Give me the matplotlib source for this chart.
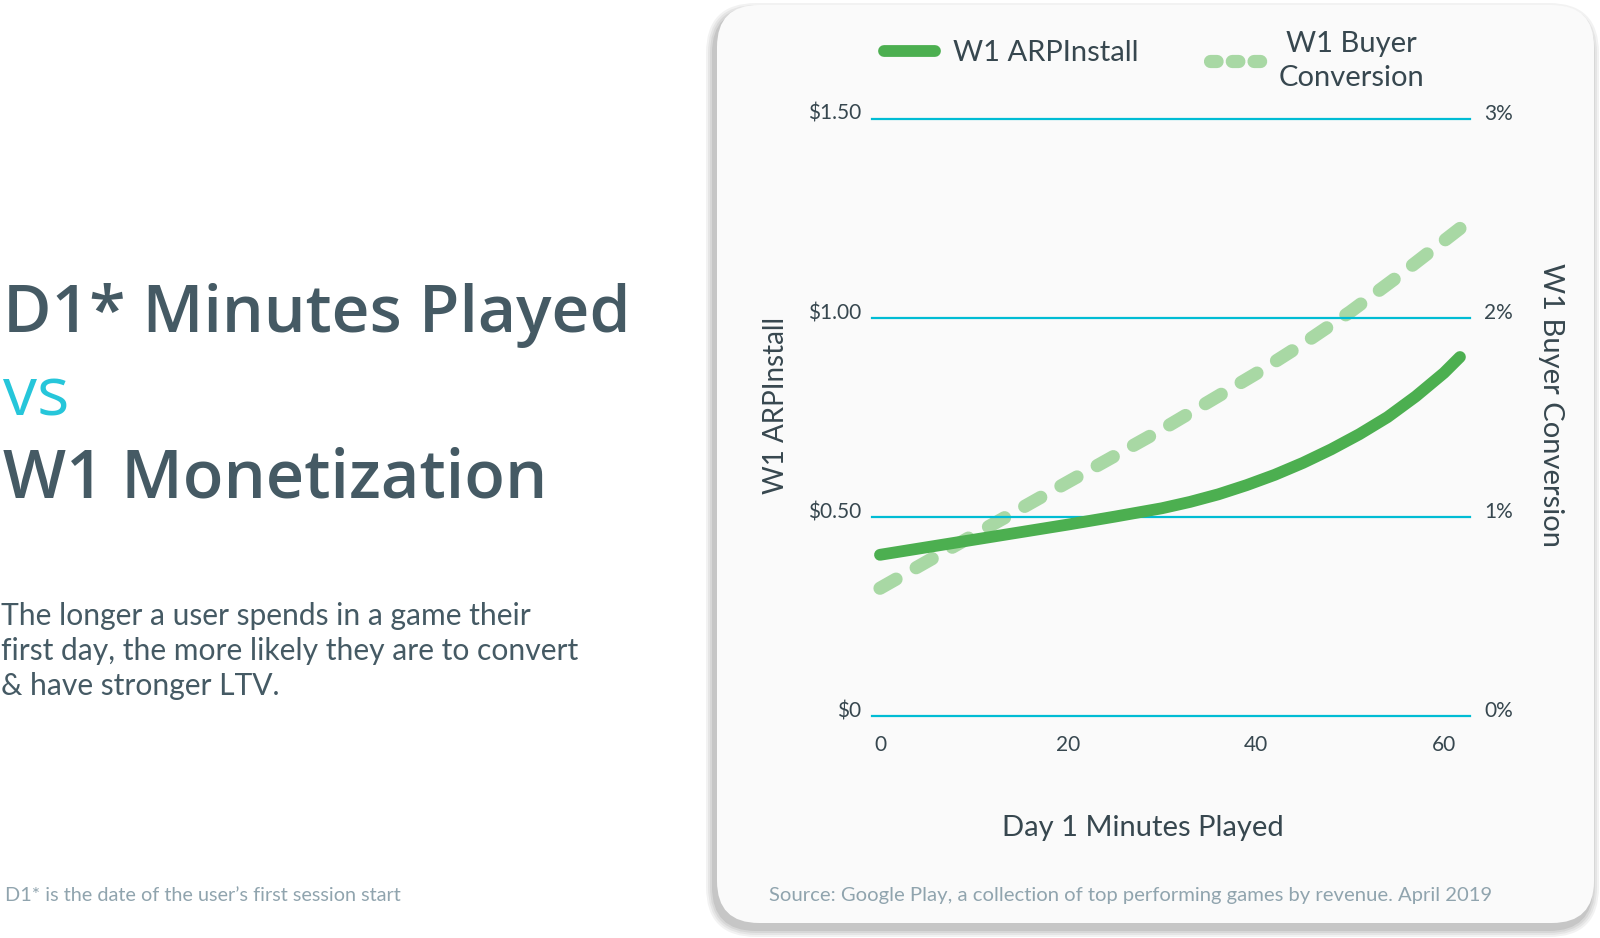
import numpy as np
import matplotlib.pyplot as plt
from matplotlib.lines import Line2D
from matplotlib.patches import FancyBboxPatch
from matplotlib.transforms import ScaledTranslation, IdentityTransform

# data
minutes_arp = [0, 5, 10, 15, 20, 25, 30, 33, 36, 39, 42, 45, 48, 51, 54, 57, 60, 61.7]
arp_install = [0.405, 0.424, 0.443, 0.462, 0.481, 0.501, 0.522, 0.538, 0.557, 0.580, 0.606,
               0.636, 0.670, 0.708, 0.751, 0.803, 0.862, 0.902]
minutes_conv = [0, 10, 20, 30, 40, 45, 50, 55, 61.7]
buyer_conv = [0.642, 0.91, 1.176, 1.44, 1.72, 1.87, 2.03, 2.205, 2.45]

left_ticks = [0, 0.5, 1.0, 1.5]
left_labels = ['\\$0', '\\$0.50', '\\$1.00', '\\$1.50']
right_ticks = [0, 1, 2, 3]
right_labels = ['0%', '1%', '2%', '3%']
x_ticks = [0, 20, 40, 60]

GREEN = '#4caf50'
LIGHT_GREEN = '#a8d8a4'
CYAN = '#00bcd4'
DARK = '#455a64'
TEXT = '#37474f'
GREY = '#90a4ae'

plt.rcParams['font.family'] = ['Lato', 'DejaVu Sans']

W, H = 1600, 938
fig = plt.figure(figsize=(W / 100, H / 100), dpi=100, facecolor='white')

def fy(y):
    return 1 - y / H

# card with soft shadow
for i, a in enumerate([0.05, 0.05, 0.06, 0.08]):
    grow = 8 - 2 * i
    sh = FancyBboxPatch((717 - 3 - grow, 938 - 923 - 6 - grow), 877 + 2 * grow, 918 + 2 * grow,
                        boxstyle='round,pad=0,rounding_size=%d' % (42 + grow),
                        transform=IdentityTransform(), facecolor='black', alpha=a,
                        edgecolor='none', zorder=-3)
    fig.patches.append(sh)
card = FancyBboxPatch((717, 938 - 923), 877, 918, boxstyle='round,pad=0,rounding_size=42',
                      transform=IdentityTransform(), facecolor='#fafafa', edgecolor='none',
                      zorder=-2)
fig.patches.append(card)

# left hand text
fig.text(3 / W, fy(332), 'D1* Minutes Played', fontsize=47.5, color=DARK,
         family=['Open Sans', 'DejaVu Sans'], weight='semibold', va='baseline')
fig.text(3 / W, fy(415), 'vs', fontsize=49, color='#26c6da',
         family=['Open Sans', 'DejaVu Sans'], va='baseline')
fig.text(3 / W, fy(498), 'W1 Monetization', fontsize=48, color=DARK,
         family=['Open Sans', 'DejaVu Sans'], weight='semibold', va='baseline')
body = ['The longer a user spends in a game their',
        'first day, the more likely they are to convert',
        '& have stronger LTV.']
for i, line in enumerate(body):
    fig.text(1 / W, fy(625 + 35 * i), line, fontsize=21.6, color=DARK, va='baseline')
fig.text(5 / W, fy(895), 'D1* is the date of the user\u2019s first session start',
         fontsize=14.3, color=GREY, va='center')

# chart
ax = fig.add_axes([872 / W, fy(716), (1470 - 872) / W, (716 - 119) / H])
ax2 = ax.twinx()
ax.set_zorder(ax2.get_zorder() + 1)
ax.patch.set_visible(False)
ax2.patch.set_visible(False)

ax.set_xlim(-0.85, 62.77)
ax.set_ylim(0, 1.5)
ax2.set_ylim(0, 3)

# fit the dash period so the dashed line starts and ends on a dash
dash_lw = 9.5
lw_px = dash_lw * fig.dpi / 72
pts = ax2.transData.transform(np.column_stack([minutes_conv, buyer_conv]))
length = np.hypot(*np.diff(pts, axis=0).T).sum()
on_px = 1.4 * lw_px
n = round((length - on_px) / 42.5)
off_px = (length - on_px) / n - on_px

ax2.plot(minutes_conv, buyer_conv, color=LIGHT_GREEN, lw=dash_lw, dash_capstyle='round',
         dashes=(on_px / lw_px, off_px / lw_px))
ax.plot(minutes_arp, arp_install, color=GREEN, lw=8.5, solid_capstyle='round',
        solid_joinstyle='round')

ax.set_xticks(x_ticks)
ax.set_yticks(left_ticks, left_labels)
ax2.set_yticks(right_ticks, right_labels)
ax.yaxis.grid(True, color=CYAN, lw=1.6)
for gl in ax.get_ygridlines():
    gl.set_clip_on(False)
for a in (ax, ax2):
    for s in a.spines.values():
        s.set_visible(False)
    a.tick_params(length=0, labelsize=15, labelcolor=TEXT)
ax.tick_params(axis='y', pad=8)
ax2.tick_params(axis='y', pad=10)
ax.tick_params(axis='x', pad=13.5)
shift = ScaledTranslation(0, 0.07, fig.dpi_scale_trans)
for lab in ax.get_yticklabels() + ax2.get_yticklabels():
    lab.set_transform(lab.get_transform() + shift)

ax.set_xlabel('Day 1 Minutes Played', fontsize=21, color=TEXT, va='center')
ax.xaxis.set_label_coords(0.453, -0.188)
ax.set_ylabel('W1 ARPInstall', fontsize=20, color=TEXT, va='center')
ax.yaxis.set_label_coords(-0.161, 0.521)
ax2.set_ylabel('W1 Buyer Conversion', fontsize=21, color=TEXT, rotation=-90, va='center')
ax2.yaxis.set_label_coords(1.135, 0.521)

# two single-entry legends so each can sit at its own height
leg_kw = dict(frameon=False, fontsize=21, labelcolor=TEXT, handlelength=1.75,
              handletextpad=0.6, loc='center', borderpad=0, borderaxespad=0,
              bbox_transform=fig.transFigure)
leg1 = ax.legend([Line2D([], [], color=GREEN, lw=8.5, solid_capstyle='round')],
                 ['W1 ARPInstall'], bbox_to_anchor=(1011 / W, fy(53)), **leg_kw)
ax.add_artist(leg1)
leg2 = ax.legend([Line2D([], [], color=LIGHT_GREEN, lw=dash_lw, dash_capstyle='round',
                         dashes=(0.5, 1.15))],
                 ['W1 Buyer\nConversion'], bbox_to_anchor=(1317 / W, fy(61)), **leg_kw)
for t in leg2.get_texts():
    t.set_multialignment('center')
    t.set_linespacing(1.4)

fig.text(769 / W, fy(895), 'Source: Google Play, a collection of top performing games by revenue. April 2019',
         fontsize=14.6, color=GREY, va='center')

fig.savefig('out.png', dpi=100, facecolor='white')
